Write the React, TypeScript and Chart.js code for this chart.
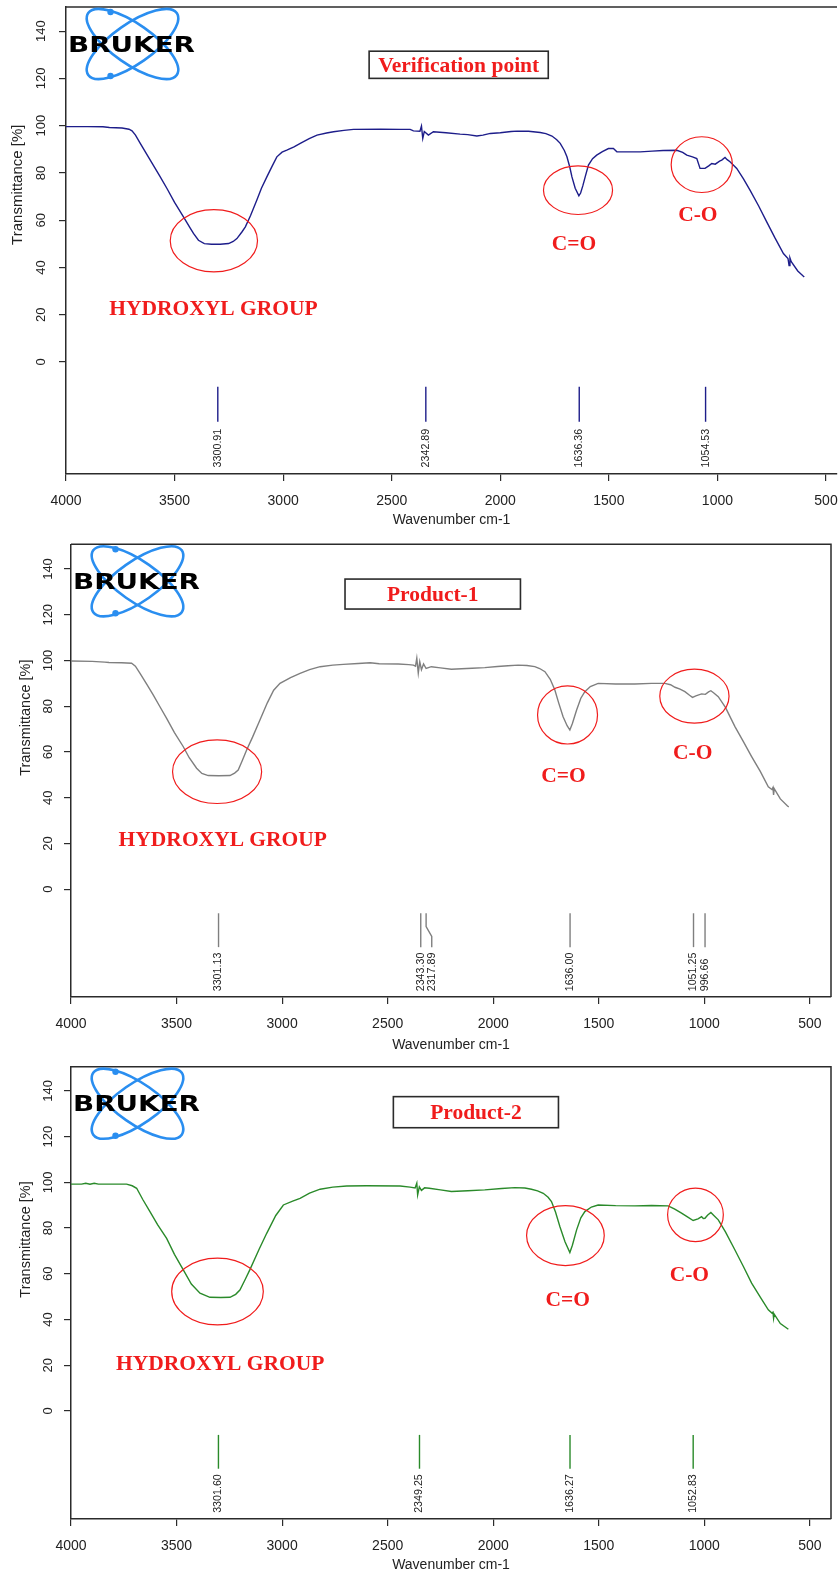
import React, { useEffect, useRef } from "react";
import { Chart, registerables } from "chart.js";

Chart.register(...registerables);

const SANS = "'Liberation Sans', Arial, sans-serif";
const SERIF = "'Liberation Serif', 'Times New Roman', serif";
const FRAME = "#2b2b2b";
const NOTE_RED = "#f01c1c";

const xTickValues = [4000, 3500, 3000, 2500, 2000, 1500, 1000, 500];
const yTickValues = [0, 20, 40, 60, 80, 100, 120, 140];

// ---- Verification point ----
const vpWave = [4000, 3900, 3830, 3800, 3742, 3710, 3696, 3680, 3658, 3612, 3570, 3535, 3500, 3459, 3430, 3413, 3390, 3363, 3330, 3290, 3251, 3230, 3213, 3190, 3174, 3150, 3121, 3100, 3075, 3050, 3029, 3005, 2983, 2950, 2921, 2880, 2844, 2800, 2768, 2720, 2676, 2550, 2460, 2415, 2400, 2370, 2363, 2357, 2350, 2331, 2308, 2250, 2185, 2150, 2108, 2080, 2046, 2000, 1950, 1923, 1870, 1816, 1790, 1762, 1740, 1724, 1705, 1693, 1680, 1670, 1655, 1638, 1630, 1620, 1609, 1594, 1575, 1556, 1530, 1502, 1479, 1463, 1400, 1356, 1300, 1250, 1187, 1160, 1141, 1115, 1095, 1080, 1057, 1040, 1026, 1010, 990, 980, 965, 955, 942, 911, 880, 850, 810, 773, 735, 696, 675, 670, 666, 660, 630, 604, 600];
const vpTrans = [99.6, 99.6, 99.5, 99.2, 99.0, 98.5, 97.8, 96.0, 92.5, 85.4, 79.0, 73.4, 67.5, 61.4, 57.0, 54.4, 51.5, 50.1, 49.8, 49.8, 50.1, 51.0, 52.2, 55.0, 57.2, 62.0, 68.5, 73.5, 78.3, 83.0, 86.8, 88.8, 89.6, 91.0, 92.5, 94.5, 96.0, 96.9, 97.4, 98.0, 98.4, 98.5, 98.4, 98.4, 97.8, 97.6, 99.8, 94.6, 97.5, 96.0, 97.4, 97.0, 96.4, 96.2, 95.6, 96.0, 96.7, 97.0, 97.5, 97.7, 97.6, 97.1, 96.6, 95.6, 94.0, 92.5, 89.5, 86.8, 82.5, 78.3, 73.5, 70.3, 71.5, 74.5, 78.3, 83.3, 86.0, 87.5, 89.0, 90.3, 90.3, 88.9, 88.9, 88.9, 89.2, 89.5, 89.6, 88.7, 87.5, 86.8, 86.1, 81.9, 81.9, 83.0, 84.0, 83.7, 85.0, 85.4, 86.5, 85.6, 84.7, 81.9, 77.5, 72.7, 66.0, 59.3, 52.5, 45.9, 43.8, 40.8, 44.0, 42.4, 38.5, 36.3, 36.0];
const vpPeaks = [3300.91, 2342.89, 1636.36, 1054.53];

// ---- Product-1 ----
const p1Wave = [4000, 3900, 3840, 3820, 3760, 3713, 3695, 3673, 3640, 3610, 3580, 3547, 3510, 3468, 3440, 3405, 3380, 3350, 3300, 3247, 3225, 3208, 3190, 3168, 3140, 3105, 3070, 3040, 3010, 2960, 2915, 2870, 2820, 2760, 2710, 2640, 2583, 2540, 2450, 2400, 2378, 2368, 2362, 2355, 2348, 2340, 2330, 2318, 2293, 2250, 2198, 2150, 2100, 2040, 1980, 1930, 1882, 1840, 1803, 1780, 1755, 1730, 1708, 1690, 1669, 1650, 1637, 1625, 1605, 1585, 1566, 1540, 1503, 1420, 1329, 1250, 1187, 1160, 1139, 1115, 1092, 1070, 1056, 1040, 1013, 995, 980, 969, 955, 934, 900, 855, 815, 776, 735, 697, 680, 675, 672, 669, 640, 606, 600];
const p1Trans = [99.8, 99.6, 99.3, 99.1, 99.0, 98.8, 97.5, 94.4, 89.5, 84.9, 80.0, 74.7, 68.5, 62.3, 57.5, 52.9, 50.6, 49.7, 49.6, 49.7, 50.8, 52.1, 56.0, 60.9, 66.5, 74.0, 81.5, 87.0, 90.0, 92.5, 94.4, 96.0, 97.3, 98.0, 98.3, 98.7, 99.0, 98.6, 98.5, 98.2, 98.0, 97.5, 101.0, 94.5, 99.5, 96.0, 98.5, 96.5, 97.3, 96.8, 96.2, 96.4, 96.6, 96.9, 97.4, 97.7, 98.0, 97.8, 97.3, 96.5, 95.1, 91.8, 87.1, 81.5, 75.4, 71.5, 69.6, 72.5, 78.4, 83.5, 86.4, 88.6, 90.0, 89.7, 89.7, 90.0, 90.0, 89.4, 88.3, 87.5, 86.4, 84.8, 83.9, 84.5, 85.4, 85.2, 86.3, 86.8, 85.8, 84.2, 79.5, 71.1, 64.5, 58.0, 51.5, 44.8, 43.6, 44.5, 41.2, 44.0, 39.5, 36.4, 36.0];
const p1Peaks = [3301.13, 2343.3, 2317.89, 1636.0, 1051.25, 996.66];

// ---- Product-2 ----
const p2Wave = [4000, 3950, 3930, 3910, 3890, 3870, 3800, 3737, 3710, 3689, 3660, 3626, 3590, 3547, 3510, 3468, 3430, 3389, 3342, 3290, 3247, 3220, 3200, 3175, 3153, 3110, 3073, 3030, 2994, 2950, 2915, 2870, 2820, 2760, 2694, 2600, 2441, 2394, 2370, 2362, 2358, 2350, 2340, 2325, 2303, 2250, 2198, 2120, 2040, 1960, 1898, 1850, 1819, 1790, 1763, 1740, 1724, 1705, 1684, 1660, 1637, 1625, 1605, 1585, 1566, 1535, 1503, 1420, 1329, 1250, 1171, 1140, 1108, 1080, 1053, 1030, 1013, 1005, 997, 985, 969, 955, 934, 900, 855, 815, 776, 735, 697, 680, 675, 672, 669, 640, 602];
const p2Trans = [99.2, 99.2, 99.6, 99.2, 99.6, 99.2, 99.2, 99.2, 98.5, 97.4, 92.5, 87.2, 81.5, 75.5, 68.5, 61.7, 55.5, 51.5, 49.7, 49.6, 49.7, 51.0, 52.9, 57.5, 61.7, 70.5, 77.7, 85.5, 90.1, 91.8, 93.0, 95.3, 97.0, 97.9, 98.4, 98.5, 98.4, 97.9, 97.5, 99.6, 94.5, 98.0, 96.5, 97.6, 97.4, 96.7, 96.0, 96.3, 96.7, 97.3, 97.7, 97.5, 97.0, 96.3, 95.2, 93.5, 91.6, 87.0, 80.6, 74.0, 69.3, 72.5, 79.2, 84.5, 87.2, 89.2, 90.1, 89.8, 89.7, 89.9, 89.7, 88.3, 86.5, 84.9, 83.3, 84.0, 85.0, 84.2, 84.3, 85.6, 86.8, 85.5, 83.6, 78.3, 70.4, 63.2, 55.9, 49.8, 44.2, 42.8, 43.2, 40.5, 42.3, 38.2, 35.7];
const p2Peaks = [3301.6, 2349.25, 1636.27, 1052.83];

type Ring = { x: number; y: number; rx: number; ry: number };
type Note = { text: string; x: number; y: number };
type PanelCfg = {
  key: string;
  top: number;
  height: number;
  chartTop: number;
  chartBottom: number;
  chartLeft: number;
  chartRight: number;
  rightBorder: boolean;
  xMin: number;
  yMin: number;
  yMax: number;
  xTitlePad: number;
  yTitleX: number;
  yTitleSize: number;
  yTickPad: number;
  color: string;
  wave: number[];
  trans: number[];
  peaks: number[];
  title: string;
  titleBox: [number, number, number, number];
  rings: Ring[];
  notes: Note[];
};

const panels: PanelCfg[] = [
  {
    key: "vp", top: 0, height: 530, chartTop: 7, chartBottom: 474, chartLeft: 66, chartRight: 837,
    rightBorder: false, xMin: 449.3, yMin: -47.4, yMax: 150.2, xTitlePad: 3, yTitleX: 17.5, yTitleSize: 15,
    yTickPad: 7, color: "#1d1d8a", wave: vpWave, trans: vpTrans, peaks: vpPeaks,
    title: "Verification point", titleBox: [2604, 131.5, 1779, 120],
    rings: [
      { x: 3319, y: 51.3, rx: 201, ry: 13.2 },
      { x: 1642, y: 72.7, rx: 159, ry: 10.3 },
      { x: 1072, y: 83.5, rx: 141, ry: 11.8 },
    ],
    notes: [
      { text: "HYDROXYL GROUP", x: 3321, y: 22.8 },
      { text: "C=O", x: 1661, y: 50.3 },
      { text: "C-O", x: 1090, y: 62.6 },
    ],
  },
  {
    key: "p1", top: 530, height: 522, chartTop: 14.3, chartBottom: 467, chartLeft: 71, chartRight: 831,
    rightBorder: true, xMin: 400, yMin: -47.1, yMax: 150.8, xTitlePad: 0, yTitleX: 26, yTitleSize: 14.5,
    yTickPad: 5, color: "#7f7f7f", wave: p1Wave, trans: p1Trans, peaks: p1Peaks,
    title: "Product-1", titleBox: [2702, 135.6, 1871, 122.5],
    rings: [
      { x: 3308, y: 51.4, rx: 211, ry: 13.9 },
      { x: 1648, y: 76.2, rx: 142, ry: 12.7 },
      { x: 1047, y: 84.4, rx: 164, ry: 11.8 },
    ],
    notes: [
      { text: "HYDROXYL GROUP", x: 3281, y: 22.1 },
      { text: "C=O", x: 1667, y: 50.1 },
      { text: "C-O", x: 1055, y: 59.9 },
    ],
  },
  {
    key: "p2", top: 1052, height: 522, chartTop: 14.7, chartBottom: 467, chartLeft: 71, chartRight: 831,
    rightBorder: true, xMin: 400, yMin: -47.3, yMax: 150.6, xTitlePad: 2, yTitleX: 26, yTitleSize: 14.5,
    yTickPad: 5, color: "#2a8a2a", wave: p2Wave, trans: p2Trans, peaks: p2Peaks,
    title: "Product-2", titleBox: [2473, 137.5, 1691, 123.9],
    rings: [
      { x: 3306, y: 52.2, rx: 217, ry: 14.6 },
      { x: 1658, y: 76.7, rx: 184, ry: 13.1 },
      { x: 1042, y: 85.8, rx: 132, ry: 11.7 },
    ],
    notes: [
      { text: "HYDROXYL GROUP", x: 3293, y: 20.9 },
      { text: "C=O", x: 1647, y: 48.8 },
      { text: "C-O", x: 1071, y: 60 },
    ],
  },
];

function capCentered(ctx: CanvasRenderingContext2D, text: string, cx: number, cy: number) {
  ctx.textAlign = "center";
  ctx.textBaseline = "alphabetic";
  const capH = ctx.measureText("H").actualBoundingBoxAscent;
  ctx.fillText(text, cx, cy + capH / 2);
}

function decorPlugin(cfg: PanelCfg) {
  return {
    id: "decor_" + cfg.key,
    afterDraw(chart: any) {
      const ctx: CanvasRenderingContext2D = chart.ctx;
      const a = chart.chartArea;
      const xs = chart.scales.x;
      const ys = chart.scales.y;
      const X = (v: number) => xs.getPixelForValue(v);
      const Y = (v: number) => ys.getPixelForValue(v);
      ctx.save();

      // frame (top / right)
      ctx.strokeStyle = FRAME;
      ctx.lineWidth = 1.5;
      ctx.beginPath();
      ctx.moveTo(a.left, a.top);
      ctx.lineTo(a.right, a.top);
      if (cfg.rightBorder) ctx.lineTo(a.right, a.bottom);
      ctx.stroke();

      // y-axis title
      ctx.save();
      ctx.translate(cfg.yTitleX, Y(75));
      ctx.rotate(-Math.PI / 2);
      ctx.font = `${cfg.yTitleSize}px ${SANS}`;
      ctx.fillStyle = "#222";
      ctx.textAlign = "center";
      ctx.textBaseline = "middle";
      ctx.fillText("Transmittance [%]", 0, 0);
      ctx.restore();

      // peak markers
      ctx.strokeStyle = cfg.color;
      ctx.lineWidth = 1.4;
      let prev = -Infinity;
      cfg.peaks.forEach((p) => {
        const px = X(p);
        const lx = Math.max(px, prev + 11);
        prev = lx;
        ctx.beginPath();
        ctx.moveTo(px, Y(-10.5));
        if (lx - px > 0.5) {
          ctx.lineTo(px, Y(-16.3));
          ctx.lineTo(lx, Y(-20.6));
        }
        ctx.lineTo(lx, Y(-25.3));
        ctx.stroke();
        ctx.save();
        ctx.translate(lx, Y(-44.6));
        ctx.rotate(-Math.PI / 2);
        ctx.font = `10.7px ${SANS}`;
        ctx.fillStyle = "#222";
        ctx.textAlign = "left";
        ctx.textBaseline = "middle";
        ctx.fillText(p.toFixed(2), 0, 0);
        ctx.restore();
      });

      // BRUKER logo
      const lcx = a.left + 66.5;
      const lcy = a.top + 37;
      ctx.strokeStyle = "#2a8ef0";
      ctx.fillStyle = "#2a8ef0";
      ctx.lineWidth = 2.6;
      [0.61, -0.61].forEach((rot) => {
        ctx.beginPath();
        ctx.ellipse(lcx, lcy, 54, 20, rot, 0, Math.PI * 2);
        ctx.stroke();
      });
      [[-22, -32], [-22, 32]].forEach(([dx, dy]) => {
        ctx.beginPath();
        ctx.arc(lcx + dx, lcy + dy, 3.2, 0, Math.PI * 2);
        ctx.fill();
      });
      ctx.save();
      ctx.font = `bold 20px 'DejaVu Sans', sans-serif`;
      const bw = ctx.measureText("BRUKER").width;
      const bh = ctx.measureText("B").actualBoundingBoxAscent;
      ctx.translate(a.left + 65.5, lcy);
      ctx.scale(127 / bw, 15 / bh);
      ctx.fillStyle = "#000";
      ctx.textAlign = "center";
      ctx.textBaseline = "alphabetic";
      ctx.fillText("BRUKER", 0, bh / 2);
      ctx.restore();

      // title box
      const [bx1, by1, bx2, by2] = cfg.titleBox;
      const rx1 = X(bx1), ry1 = Y(by1), rx2 = X(bx2), ry2 = Y(by2);
      ctx.fillStyle = "#fff";
      ctx.fillRect(rx1, ry1, rx2 - rx1, ry2 - ry1);
      ctx.strokeStyle = FRAME;
      ctx.lineWidth = 1.6;
      ctx.strokeRect(rx1, ry1, rx2 - rx1, ry2 - ry1);
      ctx.font = `bold 21.5px ${SERIF}`;
      ctx.fillStyle = NOTE_RED;
      capCentered(ctx, cfg.title, (rx1 + rx2) / 2, (ry1 + ry2) / 2);

      // rings
      ctx.strokeStyle = NOTE_RED;
      ctx.lineWidth = 1.2;
      cfg.rings.forEach((r) => {
        const cx = X(r.x), cy = Y(r.y);
        const rxp = Math.abs(X(r.x + r.rx) - cx);
        const ryp = Math.abs(Y(r.y + r.ry) - cy);
        ctx.beginPath();
        ctx.ellipse(cx, cy, rxp, ryp, 0, 0, Math.PI * 2);
        ctx.stroke();
      });

      // notes
      ctx.font = `bold 21.5px ${SERIF}`;
      ctx.fillStyle = NOTE_RED;
      cfg.notes.forEach((n) => capCentered(ctx, n.text, X(n.x), Y(n.y)));

      ctx.restore();
    },
  };
}

function Panel({ cfg }: { cfg: PanelCfg }) {
  const ref = useRef<HTMLCanvasElement>(null);
  useEffect(() => {
    const canvas = ref.current;
    if (!canvas) return;
    const axisGrid = { display: true, drawOnChartArea: false, drawTicks: true, tickLength: 7, color: FRAME, lineWidth: 1.2 };
    const axisBorder = { display: true, color: FRAME, width: 1.5 };
    const chart = new Chart(canvas, {
      type: "line",
      data: {
        datasets: [
          {
            data: cfg.wave.map((w, i) => ({ x: w, y: cfg.trans[i] })),
            borderColor: cfg.color,
            borderWidth: 1.4,
            pointRadius: 0,
            tension: 0,
            fill: false,
          },
        ],
      },
      options: {
        animation: false,
        responsive: false,
        maintainAspectRatio: false,
        devicePixelRatio: 1,
        layout: { padding: { left: 0, top: cfg.chartTop, right: 838 - cfg.chartRight, bottom: 0 } },
        plugins: { legend: { display: false }, tooltip: { enabled: false }, title: { display: false } },
        scales: {
          x: {
            type: "linear",
            reverse: true,
            min: cfg.xMin,
            max: 4000,
            afterBuildTicks: (s: any) => {
              s.ticks = xTickValues.map((v) => ({ value: v }));
            },
            afterFit: (s: any) => {
              s.height = cfg.height - cfg.chartBottom;
              s.paddingLeft = 0;
              s.paddingRight = 0;
            },
            ticks: {
              autoSkip: false,
              maxRotation: 0,
              padding: 12,
              color: "#222",
              font: { family: SANS, size: 14 },
              callback: (v: any) => String(v),
            },
            grid: axisGrid,
            border: axisBorder,
            title: {
              display: true,
              text: "Wavenumber cm-1",
              color: "#222",
              font: { family: SANS, size: 14, lineHeight: 1 },
              padding: { top: 0, bottom: cfg.xTitlePad },
            },
          },
          y: {
            type: "linear",
            min: cfg.yMin,
            max: cfg.yMax,
            afterBuildTicks: (s: any) => {
              s.ticks = yTickValues.map((v) => ({ value: v }));
            },
            afterFit: (s: any) => {
              s.width = cfg.chartLeft;
              s.paddingTop = 0;
              s.paddingBottom = 0;
            },
            ticks: {
              autoSkip: false,
              minRotation: 90,
              maxRotation: 90,
              crossAlign: "center",
              padding: cfg.yTickPad,
              color: "#222",
              font: { family: SANS, size: 13 },
              callback: (v: any) => String(v),
            },
            grid: axisGrid,
            border: axisBorder,
          },
        },
      } as any,
      plugins: [decorPlugin(cfg)],
    });
    return () => chart.destroy();
  }, [cfg]);
  return (
    <canvas
      ref={ref}
      width={838}
      height={cfg.height}
      style={{ position: "absolute", left: 0, top: cfg.top, width: 838, height: cfg.height, display: "block" }}
    />
  );
}

export default function App() {
  return (
    <div style={{ position: "absolute", left: 0, top: 0, width: 838, height: 1574, background: "#fff", overflow: "hidden" }}>
      {panels.map((p) => (
        <Panel key={p.key} cfg={p} />
      ))}
    </div>
  );
}
